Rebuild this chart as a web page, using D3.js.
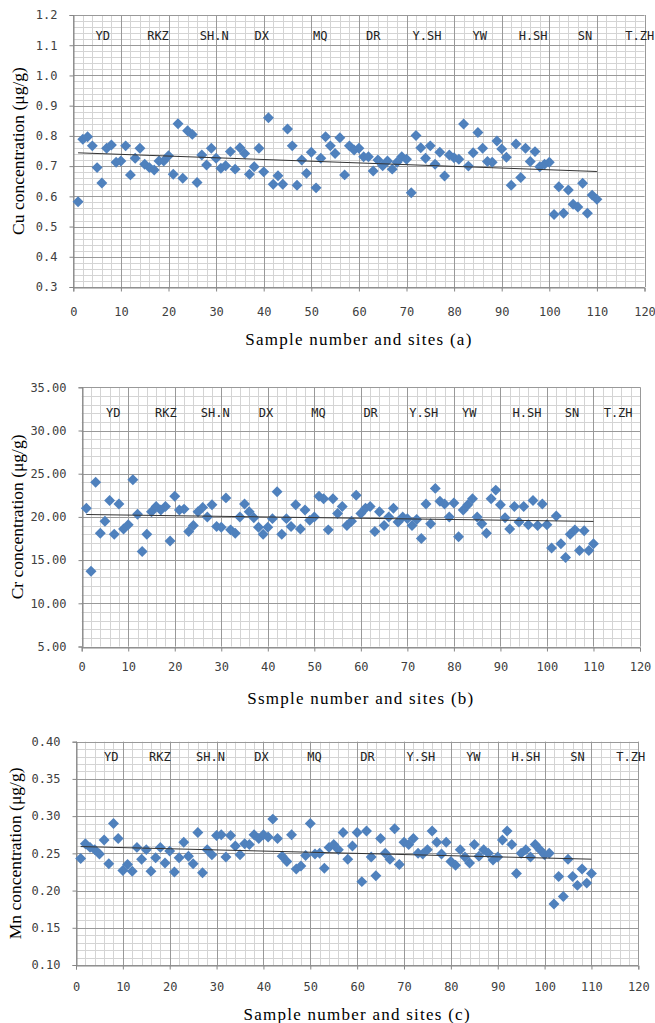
<!DOCTYPE html>
<html>
<head>
<meta charset="utf-8">
<script src="https://cdn.jsdelivr.net/npm/d3@7"></script>
<style>
  body { margin: 0; background: #fff; }
  svg { display: block; }
</style>
</head>
<body>
<div id="chart"></div>
<script>
// sample ids along the x axis
const sampleNo = d3.range(1, 111);

const sites = ["YD", "RKZ", "SH.N", "DX", "MQ", "DR", "Y.SH", "YW", "H.SH", "SN", "T.ZH"];
// where each site caption sits, in sample-number units (differs a bit per panel)
const cuSitePos = [6.2, 17.8, 29.6, 39.6, 51.9, 63, 74.3, 85.4, 96.6, 107.5, 119];
const crSitePos = [6.8, 18.1, 28.7, 39.6, 50.9, 62.1, 73.5, 83.3, 95.7, 105.4, 115.3];
const mnSitePos = [7.5, 17.9, 28.7, 39.6, 50.9, 62.2, 73.6, 84.8, 96, 107, 118.4];

const cuValues = [
  0.582, 0.789, 0.797, 0.767, 0.695, 0.644, 0.759, 0.770, 0.713, 0.717,
  0.767, 0.671, 0.726, 0.759, 0.706, 0.695, 0.687, 0.717, 0.717, 0.734,
  0.673, 0.840, 0.660, 0.817, 0.805, 0.646, 0.737, 0.704, 0.759, 0.726,
  0.693, 0.701, 0.748, 0.690, 0.761, 0.742, 0.673, 0.698, 0.759, 0.681,
  0.860, 0.640, 0.668, 0.640, 0.823, 0.767, 0.637, 0.720, 0.676, 0.746,
  0.628, 0.726, 0.797, 0.767, 0.742, 0.794, 0.671, 0.767, 0.753, 0.759,
  0.731, 0.731, 0.684, 0.720, 0.701, 0.717, 0.690, 0.713, 0.731, 0.723,
  0.612, 0.801, 0.761, 0.726, 0.767, 0.706, 0.746, 0.667, 0.737, 0.728,
  0.723, 0.839, 0.700, 0.744, 0.811, 0.759, 0.715, 0.713, 0.783, 0.757,
  0.729, 0.637, 0.773, 0.662, 0.759, 0.715, 0.748, 0.698, 0.706, 0.713,
  0.540, 0.632, 0.544, 0.621, 0.574, 0.565, 0.643, 0.544, 0.604, 0.590
];

const crValues = [
  21.0, 13.7, 24.0, 18.1, 19.5, 21.9, 18.0, 21.5, 18.6, 19.1,
  24.3, 20.3, 16.0, 18.0, 20.6, 21.2, 20.8, 21.2, 17.2, 22.4,
  20.8, 20.9, 18.3, 19.0, 20.6, 21.1, 20.0, 21.4, 18.9, 18.8,
  22.2, 18.5, 18.1, 20.0, 21.5, 20.6, 19.9, 18.8, 18.0, 18.8,
  19.8, 22.9, 18.0, 19.8, 18.9, 21.4, 18.6, 20.8, 19.6, 20.0,
  22.4, 22.1, 18.5, 22.1, 20.4, 21.2, 19.0, 19.5, 22.5, 20.4,
  21.0, 21.2, 18.3, 20.6, 19.0, 20.0, 21.0, 19.4, 20.0, 19.8,
  19.0, 19.7, 17.5, 21.5, 19.2, 23.3, 21.8, 21.5, 20.0, 21.6,
  17.7, 20.8, 21.4, 22.1, 20.0, 19.2, 18.1, 22.1, 23.1, 21.4,
  19.9, 18.6, 21.2, 19.4, 21.2, 19.1, 21.9, 19.0, 21.5, 19.1,
  16.4, 20.1, 16.9, 15.3, 18.0, 18.5, 16.1, 18.4, 16.1, 16.9
];

const mnValues = [
  0.243, 0.263, 0.258, 0.255, 0.249, 0.268, 0.236, 0.290, 0.270, 0.227,
  0.235, 0.226, 0.258, 0.242, 0.255, 0.226, 0.244, 0.258, 0.237, 0.253,
  0.225, 0.244, 0.265, 0.246, 0.236, 0.278, 0.224, 0.255, 0.248, 0.274,
  0.275, 0.245, 0.274, 0.260, 0.248, 0.263, 0.262, 0.275, 0.270, 0.275,
  0.272, 0.296, 0.270, 0.246, 0.239, 0.275, 0.229, 0.233, 0.247, 0.290,
  0.249, 0.250, 0.230, 0.258, 0.262, 0.255, 0.278, 0.242, 0.260, 0.278,
  0.212, 0.280, 0.245, 0.220, 0.270, 0.250, 0.242, 0.283, 0.235, 0.265,
  0.262, 0.270, 0.250, 0.249, 0.255, 0.280, 0.265, 0.249, 0.265, 0.239,
  0.234, 0.255, 0.245, 0.237, 0.262, 0.246, 0.255, 0.250, 0.241, 0.245,
  0.268, 0.280, 0.262, 0.223, 0.250, 0.255, 0.245, 0.262, 0.255, 0.248,
  0.250, 0.182, 0.219, 0.192, 0.242, 0.219, 0.207, 0.229, 0.210, 0.223
];

const W = 655, H = 1023;
const POINT_COLOR = "#4F81BD";
const MAJOR_GRID = "#999999";
const MINOR_GRID = "#d4d4d4";
const TICK_FONT = "'DejaVu Sans Mono', monospace";
const TITLE_FONT = "'Liberation Serif', 'Times New Roman', serif";

const panels = [
  {
    values: cuValues, sitePos: cuSitePos,
    left: 73.3, right: 644.5, top: 15, bottom: 287,
    yDomain: [0.3, 1.2], yStep: 0.1, yFormat: d3.format(".1f"),
    yTitle: "Cu concentration (\u03bcg/g)", yTitleX: 18,
    xTitle: "Sample number and sites (a)", xTitleY: 345, tickLabelY: 315,
    siteY: 40
  },
  {
    values: crValues, sitePos: crSitePos,
    left: 81.7, right: 640, top: 387.3, bottom: 646.5,
    yDomain: [5, 35], yStep: 5, yFormat: d3.format(".2f"),
    yTitle: "Cr concentration (\u03bcg/g)", yTitleX: 17,
    xTitle: "Ssmple number and sites (b)", xTitleY: 704, tickLabelY: 670,
    siteY: 417
  },
  {
    values: mnValues, sitePos: mnSitePos,
    left: 76, right: 638.3, top: 741.7, bottom: 965,
    yDomain: [0.1, 0.4], yStep: 0.05, yFormat: d3.format(".2f"),
    yTitle: "Mn concentration (\u03bcg/g)", yTitleX: 15,
    xTitle: "Sample number and sites (c)", xTitleY: 1020, tickLabelY: 990,
    siteY: 761
  }
];

const svg = d3.select("#chart")
  .append("svg")
  .attr("width", W)
  .attr("height", H)
  .attr("viewBox", [0, 0, W, H]);

function linearFit(xs, ys) {
  const mx = d3.mean(xs), my = d3.mean(ys);
  let sxy = 0, sxx = 0;
  xs.forEach((x, i) => {
    sxy += (x - mx) * (ys[i] - my);
    sxx += (x - mx) * (x - mx);
  });
  const slope = sxy / sxx;
  return x => my + slope * (x - mx);
}

function drawPanel(p) {
  const x = d3.scaleLinear().domain([0, 120]).range([p.left, p.right]);
  const y = d3.scaleLinear().domain(p.yDomain).range([p.bottom, p.top]);
  const g = svg.append("g");

  const [y0, y1] = p.yDomain;
  const nY = Math.round((y1 - y0) / p.yStep);
  const yMajor = d3.range(nY + 1).map(i => y0 + i * p.yStep);
  const yMinor = d3.range(nY * 5 + 1).map(i => y0 + i * p.yStep / 5);
  const xMajor = d3.range(0, 121, 10);
  const xMinor = d3.range(0, 121, 2);

  // minor grid
  g.append("g").selectAll("line.vmin").data(xMinor).join("line")
    .attr("x1", d => Math.round(x(d)) + 0.5).attr("x2", d => Math.round(x(d)) + 0.5)
    .attr("y1", p.top).attr("y2", p.bottom)
    .attr("stroke", MINOR_GRID).attr("stroke-width", 1);
  g.append("g").selectAll("line.hmin").data(yMinor).join("line")
    .attr("y1", d => Math.round(y(d)) + 0.5).attr("y2", d => Math.round(y(d)) + 0.5)
    .attr("x1", p.left).attr("x2", p.right)
    .attr("stroke", MINOR_GRID).attr("stroke-width", 1);

  // major grid
  g.append("g").selectAll("line").data(xMajor).join("line")
    .attr("x1", d => Math.round(x(d)) + 0.5).attr("x2", d => Math.round(x(d)) + 0.5)
    .attr("y1", p.top).attr("y2", p.bottom)
    .attr("stroke", MAJOR_GRID).attr("stroke-width", 1);
  g.append("g").selectAll("line").data(yMajor).join("line")
    .attr("y1", d => Math.round(y(d)) + 0.5).attr("y2", d => Math.round(y(d)) + 0.5)
    .attr("x1", p.left).attr("x2", p.right)
    .attr("stroke", MAJOR_GRID).attr("stroke-width", 1);

  // y axis
  const yAxis = g.append("g")
    .attr("transform", `translate(${Math.round(p.left) + 0.5},0)`)
    .call(d3.axisLeft(y).tickValues(yMajor).tickFormat(p.yFormat).tickSize(4).tickPadding(12));
  yAxis.select(".domain").attr("stroke", "#868686");
  yAxis.selectAll(".tick line").attr("stroke", "#868686");
  yAxis.selectAll("text")
    .attr("font-family", TICK_FONT).attr("font-size", 12).attr("fill", "#404040");

  // x axis
  const xAxis = g.append("g")
    .attr("transform", `translate(0,${Math.round(p.bottom) + 0.5})`)
    .call(d3.axisBottom(x).tickValues(xMajor).tickFormat(d3.format("d")).tickSize(4).tickPadding(0));
  xAxis.select(".domain").attr("stroke", "#868686");
  xAxis.selectAll(".tick line").attr("stroke", "#868686");
  xAxis.selectAll("text")
    .attr("y", p.tickLabelY - Math.round(p.bottom)).attr("dy", 0)
    .attr("font-family", TICK_FONT).attr("font-size", 12).attr("fill", "#404040");

  // site captions
  g.append("g").selectAll("text").data(sites).join("text")
    .attr("x", (d, i) => x(p.sitePos[i]))
    .attr("y", p.siteY)
    .attr("text-anchor", "middle")
    .attr("font-family", TICK_FONT).attr("font-size", 12).attr("fill", "#222")
    .text(d => d);

  // points
  g.append("g").selectAll("path").data(p.values).join("path")
    .attr("d", d3.symbol(d3.symbolSquare, 60))
    .attr("transform", (d, i) => `translate(${x(sampleNo[i])},${y(d)}) rotate(45)`)
    .attr("fill", POINT_COLOR);

  // linear trendline
  const fit = linearFit(sampleNo, p.values);
  const xs = [sampleNo[0], sampleNo[sampleNo.length - 1]];
  g.append("line")
    .attr("x1", x(xs[0])).attr("y1", y(fit(xs[0])))
    .attr("x2", x(xs[1])).attr("y2", y(fit(xs[1])))
    .attr("stroke", "#333").attr("stroke-width", 1);

  // titles
  g.append("text")
    .attr("transform", `translate(${p.yTitleX},${(p.top + p.bottom) / 2}) rotate(-90)`)
    .attr("text-anchor", "middle").attr("dominant-baseline", "central")
    .attr("font-family", TITLE_FONT).attr("font-size", 17.5).attr("fill", "#000")
    .text(p.yTitle);
  g.append("text")
    .attr("x", (p.left + p.right) / 2).attr("y", p.xTitleY)
    .attr("text-anchor", "middle")
    .attr("font-family", TITLE_FONT).attr("font-size", 17).attr("letter-spacing", 1.25)
    .attr("fill", "#000")
    .text(p.xTitle);
}

panels.forEach(drawPanel);
</script>
</body>
</html>
